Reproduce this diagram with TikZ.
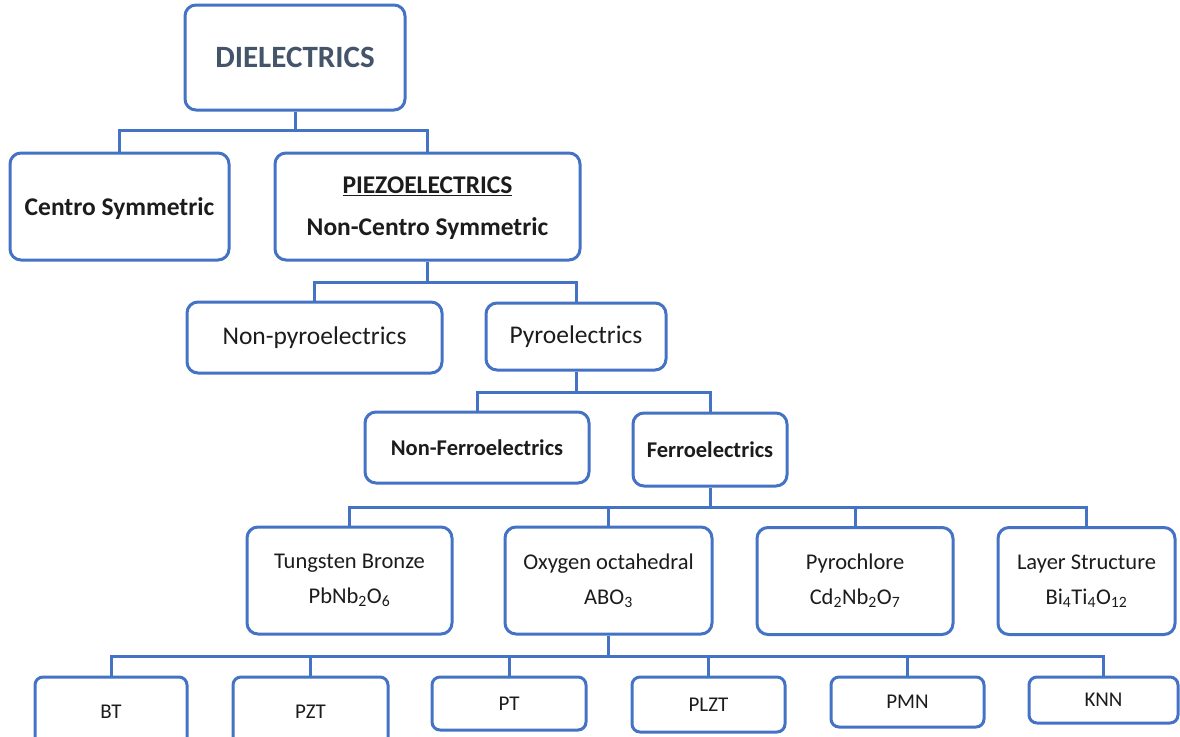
\documentclass[tikz,border=0pt]{standalone}
\usepackage{fontspec}
\setmainfont{Carlito}
\definecolor{boxblue}{RGB}{68,114,196}
\definecolor{titleslate}{RGB}{68,84,106}
\definecolor{ink}{RGB}{28,28,28}
\begin{document}
\begin{tikzpicture}[x=1pt,y=-1pt,
  box/.style={draw=boxblue, line width=3pt, rounded corners=11pt, fill=white,
    inner sep=0pt, align=center, text=ink},
  link/.style={draw=boxblue, line width=3pt},
  titlefont/.style={font=\fontsize{31}{36}\bfseries\selectfont, text=titleslate},
  lvbold/.style={font=\fontsize{25.5}{40}\bfseries\selectfont},
  lvreg/.style={font=\fontsize{25.5}{30}\selectfont},
  lvsmallbold/.style={font=\fontsize{22.5}{27}\bfseries\selectfont},
  lvtwo/.style={font=\fontsize{22.5}{35}\selectfont},
  lvleaf/.style={font=\fontsize{21}{25}\selectfont}]
\useasboundingbox (0,0) rectangle (1180,736);

% boxes
\node[box, titlefont, minimum width=220, minimum height=105] (diel) at (295,57.5) {DIELECTRICS};

\node[box, lvbold, text height=22pt, minimum width=219, minimum height=107] (centro) at (119.5,206.5) {Centro Symmetric};
\node[box, lvbold, minimum width=305, minimum height=107] (piezo) at (427.5,206.5) {\raisebox{-3pt}{\begin{tabular}{@{}c@{}}\underline{PIEZOELECTRICS}\\[2pt]Non-Centro Symmetric\end{tabular}}};

\node[box, lvreg, minimum width=255, minimum height=71] (nonpyro) at (314.5,337.5) {Non-pyroelectrics};
\node[box, lvreg, minimum width=180, minimum height=67] (pyro) at (576,336.5) {Pyroelectrics};

\node[box, lvsmallbold, minimum width=224, minimum height=71] (nonferro) at (477,447.5) {Non-Ferroelectrics};
\node[box, lvsmallbold, minimum width=154, minimum height=73] (ferro) at (710,449.5) {Ferroelectrics};

\node[box, lvtwo, minimum width=205, minimum height=107] (tung) at (349.5,580.5) {Tungsten Bronze\\PbNb\textsubscript{2}O\textsubscript{6}};
\node[box, lvtwo, minimum width=207, minimum height=107] (oxy) at (608.5,580.5) {Oxygen octahedral\\ABO\textsubscript{3}};
\node[box, lvtwo, minimum width=196, minimum height=107] (pyroc) at (855,581) {Pyrochlore\\Cd\textsubscript{2}Nb\textsubscript{2}O\textsubscript{7}};
\node[box, lvtwo, minimum width=177, minimum height=107] (layer) at (1086.5,581) {Layer Structure\\Bi\textsubscript{4}Ti\textsubscript{4}O\textsubscript{12}};

\node[box, lvleaf, rounded corners=8pt, minimum width=152, minimum height=70] (bt) at (111,712) {BT};
\node[box, lvleaf, rounded corners=8pt, minimum width=155, minimum height=70] (pzt) at (310.5,712) {PZT};
\node[box, lvleaf, rounded corners=8pt, minimum width=154, minimum height=53] (pt) at (509,703.5) {PT};
\node[box, lvleaf, rounded corners=8pt, minimum width=153, minimum height=55] (plzt) at (708.5,704.5) {PLZT};
\node[box, lvleaf, rounded corners=8pt, minimum width=153, minimum height=50] (pmn) at (907.5,702) {PMN};
\node[box, lvleaf, rounded corners=8pt, minimum width=149, minimum height=46] (knn) at (1103.5,700) {KNN};

% bus levels
\coordinate (bus1) at (0,130);
\coordinate (bus2) at (0,282);
\coordinate (bus3) at (0,392);
\coordinate (bus4) at (0,507);
\coordinate (bus5) at (0,656);

% connectors
\foreach \c in {centro,piezo}
  \draw[link] (diel.south) -- (diel.south |- bus1) -| (\c.north);
\foreach \c in {nonpyro,pyro}
  \draw[link] (piezo.south) -- (piezo.south |- bus2) -| (\c.north);
\foreach \c in {nonferro,ferro}
  \draw[link] (pyro.south) -- (pyro.south |- bus3) -| (\c.north);
\foreach \c in {tung,oxy,pyroc,layer}
  \draw[link] (ferro.south) -- (ferro.south |- bus4) -| (\c.north);
\foreach \c in {bt,pzt,pt,plzt,pmn,knn}
  \draw[link] (oxy.south) -- (oxy.south |- bus5) -| (\c.north);
\end{tikzpicture}
\end{document}
